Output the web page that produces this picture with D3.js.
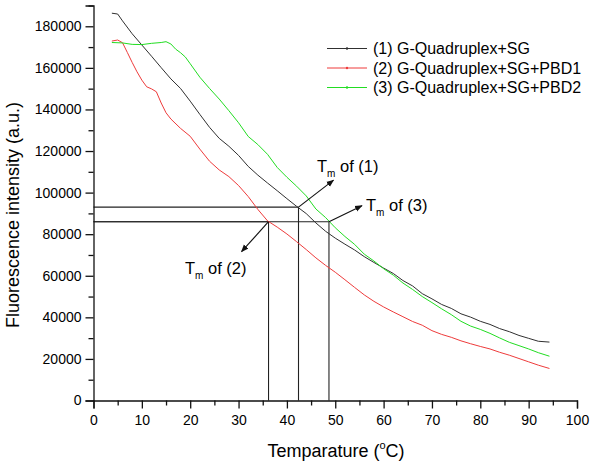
<!DOCTYPE html>
<html>
<head>
<meta charset="utf-8">
<script src="https://cdn.jsdelivr.net/npm/d3@7"></script>
<style>
html,body{margin:0;padding:0;background:#fff;}
svg{display:block;font-family:"Liberation Sans",Arial,Helvetica,sans-serif;}
</style>
</head>
<body>
<svg id="chart" width="594" height="468"></svg>
<script>
// ---------- data ----------
const temps1 = [3.8,5,6,8,10,12,14,16,18,20,22,24,26,28,30,32,34,36,38,40,42,44,46,48,50,52,54,56,58,60,62,64,66,68,70,72,74,76,78,80,82,84,86,88,90,92,94.3];
const series1 = [186300,185900,182600,176400,171000,165600,160100,154700,150100,144000,137600,131400,126100,122300,117900,112600,108400,104600,100900,97100,93400,89900,85400,81400,78100,75200,72400,69200,66400,63700,61100,57700,55100,51400,48900,46200,44300,41700,40100,38100,36600,34600,33100,31300,29900,28500,28100];

const temps2 = [3.8,5,6,7,8,9,10,11,12,13,14,15,16,18,20,22,24,26,28,30,32,34,36,38,40,42,44,46,48,50,52,54,56,58,60,62,64,66,68,70,72,74,76,78,80,82,84,86,88,90,92,94.3];
const series2 = [172900,173400,172100,167400,162600,158100,154100,150900,149900,148500,143100,138400,135400,130900,127100,120900,115100,110900,107700,103400,98100,91900,86400,83400,80100,76400,72600,68600,65000,61700,58100,54400,50800,47700,45000,42600,40300,38000,36200,33600,31800,30400,28700,27300,26000,24800,23200,21800,20200,18600,17000,15400];

const temps3 = [3.8,6,8,10,12,14,15,16,17,18,19,20,22,24,26,28,30,32,34,36,38,40,42,44,46,48,50,52,54,56,58,60,62,64,66,68,70,72,74,76,78,80,82,84,86,88,90,92,94.3];
const series3 = [172200,172000,171300,171200,171800,172200,172600,171500,169000,167300,165200,162000,155500,150100,145000,139400,133600,127000,123100,118400,112100,107400,103100,98400,92100,88000,83100,78900,75100,70400,67100,63400,60300,56500,53400,50000,47100,44100,41300,38100,35800,34200,32300,30100,28000,26400,24800,23000,21300];

const seriesNames = ["(1) G-Quadruplex+SG","(2) G-Quadruplex+SG+PBD1","(3) G-Quadruplex+SG+PBD2"];
const seriesColors = ["#303030","#ee3b3b","#22dd22"];

const xTicks = [0,10,20,30,40,50,60,70,80,90,100];
const yTicks = [0,20000,40000,60000,80000,100000,120000,140000,160000,180000];

// melting temperatures and fluorescence at Tm
const tmLabels = ["(1)","(2)","(3)"];
const tmTemps = [42.4,36.2,48.7];
const tmValues = [93000,86000,86000];

// ---------- layout ----------
const svg = d3.select("#chart");
const mLeft = 93.5, mRight = 577, mTop = 5.5, mBottom = 400.5;
const x = d3.scaleLinear().domain([0,100]).range([mLeft,mRight]);
const y = d3.scaleLinear().domain([0,190000]).range([mBottom,mTop]);
const axisColor = "#111";

// curves
const line = d3.line().x(d=>x(d[0])).y(d=>y(d[1]));
const allSeries = [
  d3.zip(temps1, series1),
  d3.zip(temps2, series2),
  d3.zip(temps3, series3)
];
// Tm guide lines (drawn first, under curves)
const guides = svg.append("g").attr("stroke","#222").attr("stroke-width",1.1).attr("fill","none");
tmTemps.forEach((t,i)=>{
  guides.append("line").attr("x1",x(0)).attr("x2",x(t)).attr("y1",y(tmValues[i])).attr("y2",y(tmValues[i]));
  guides.append("line").attr("x1",x(t)).attr("x2",x(t)).attr("y1",y(tmValues[i])).attr("y2",y(0));
});

allSeries.forEach((s,i)=>{
  svg.append("path").datum(s).attr("d",line)
    .attr("fill","none").attr("stroke",seriesColors[i]).attr("stroke-width",1)
    .attr("stroke-linejoin","round");
});

// axes
const xAxis = d3.axisBottom(x).tickValues(xTicks).tickSize(8).tickPadding(4).tickFormat(d3.format("d"));
const yAxis = d3.axisLeft(y).tickValues(yTicks).tickSize(8).tickPadding(4).tickFormat(d3.format("d"));
const gx = svg.append("g").attr("transform",`translate(0,${mBottom})`).call(xAxis);
const gy = svg.append("g").attr("transform",`translate(${mLeft},0)`).call(yAxis);
// minor ticks
const gxm = svg.append("g").attr("transform",`translate(0,${mBottom})`)
  .call(d3.axisBottom(x).tickValues(xTicks.slice(0,-1).map(v=>v+5)).tickSize(5).tickFormat(""));
const gym = svg.append("g").attr("transform",`translate(${mLeft},0)`)
  .call(d3.axisLeft(y).tickValues(yTicks.map(v=>v+10000)).tickSize(5).tickFormat(""));
[gx,gy,gxm,gym].forEach(g=>{
  g.select(".domain").attr("stroke",axisColor).attr("stroke-width",1.3);
  g.selectAll(".tick line").attr("stroke",axisColor).attr("stroke-width",1.3);
  g.selectAll(".tick text").attr("fill","#000").attr("font-size",14).attr("font-family","'Liberation Sans',Arial,sans-serif");
});
gym.select(".domain").remove();
gxm.select(".domain").remove();
gx.selectAll(".tick text").attr("dy","0.9em");

// axis titles
const xt = svg.append("text").attr("x",336).attr("y",457).attr("text-anchor","middle")
  .attr("font-size",18).attr("fill","#000");
xt.append("tspan").text("Temparature (");
xt.append("tspan").text("o").attr("font-size",11).attr("dy",-8);
xt.append("tspan").text("C)").attr("dy",8);

svg.append("text").attr("transform","translate(19,215) rotate(-90)").attr("text-anchor","middle")
  .attr("font-size",18).attr("fill","#000").text("Fluorescence intensity (a.u.)");

// legend
const lg = svg.append("g");
seriesNames.forEach((n,i)=>{
  const cy = 48.5 + i*19.5;
  lg.append("line").attr("x1",327).attr("x2",367).attr("y1",cy).attr("y2",cy)
    .attr("stroke",seriesColors[i]).attr("stroke-width",1);
  lg.append("circle").attr("cx",347).attr("cy",cy).attr("r",1.2).attr("fill",seriesColors[i]);
  lg.append("text").attr("x",373).attr("y",cy+5.8).attr("font-size",16).attr("fill","#000").text(n);
});

// Tm arrows and labels
const defs = svg.append("defs");
defs.append("marker").attr("id","arr").attr("viewBox","0 0 10 10").attr("refX",9).attr("refY",5)
  .attr("markerWidth",7).attr("markerHeight",7).attr("orient","auto")
  .append("path").attr("d","M0,1 L10,5 L0,9 Z").attr("fill","#111");
const arrowOff = [[35,-27],[-27,30],[33,-16]];
const labelPos = [[317,171.5],[185,274],[366,211]];
tmTemps.forEach((t,i)=>{
  const px = x(t), py = y(tmValues[i]);
  svg.append("line").attr("x1",px).attr("y1",py).attr("x2",px+arrowOff[i][0]).attr("y2",py+arrowOff[i][1])
    .attr("stroke","#111").attr("stroke-width",1.1).attr("marker-end","url(#arr)");
  const tx = svg.append("text").attr("x",labelPos[i][0]).attr("y",labelPos[i][1]).attr("font-size",16.5).attr("fill","#000");
  tx.append("tspan").text("T");
  tx.append("tspan").text("m").attr("font-size",10).attr("dy",5);
  tx.append("tspan").text(" of " + tmLabels[i]).attr("dy",-5);
});
</script>
</body>
</html>
